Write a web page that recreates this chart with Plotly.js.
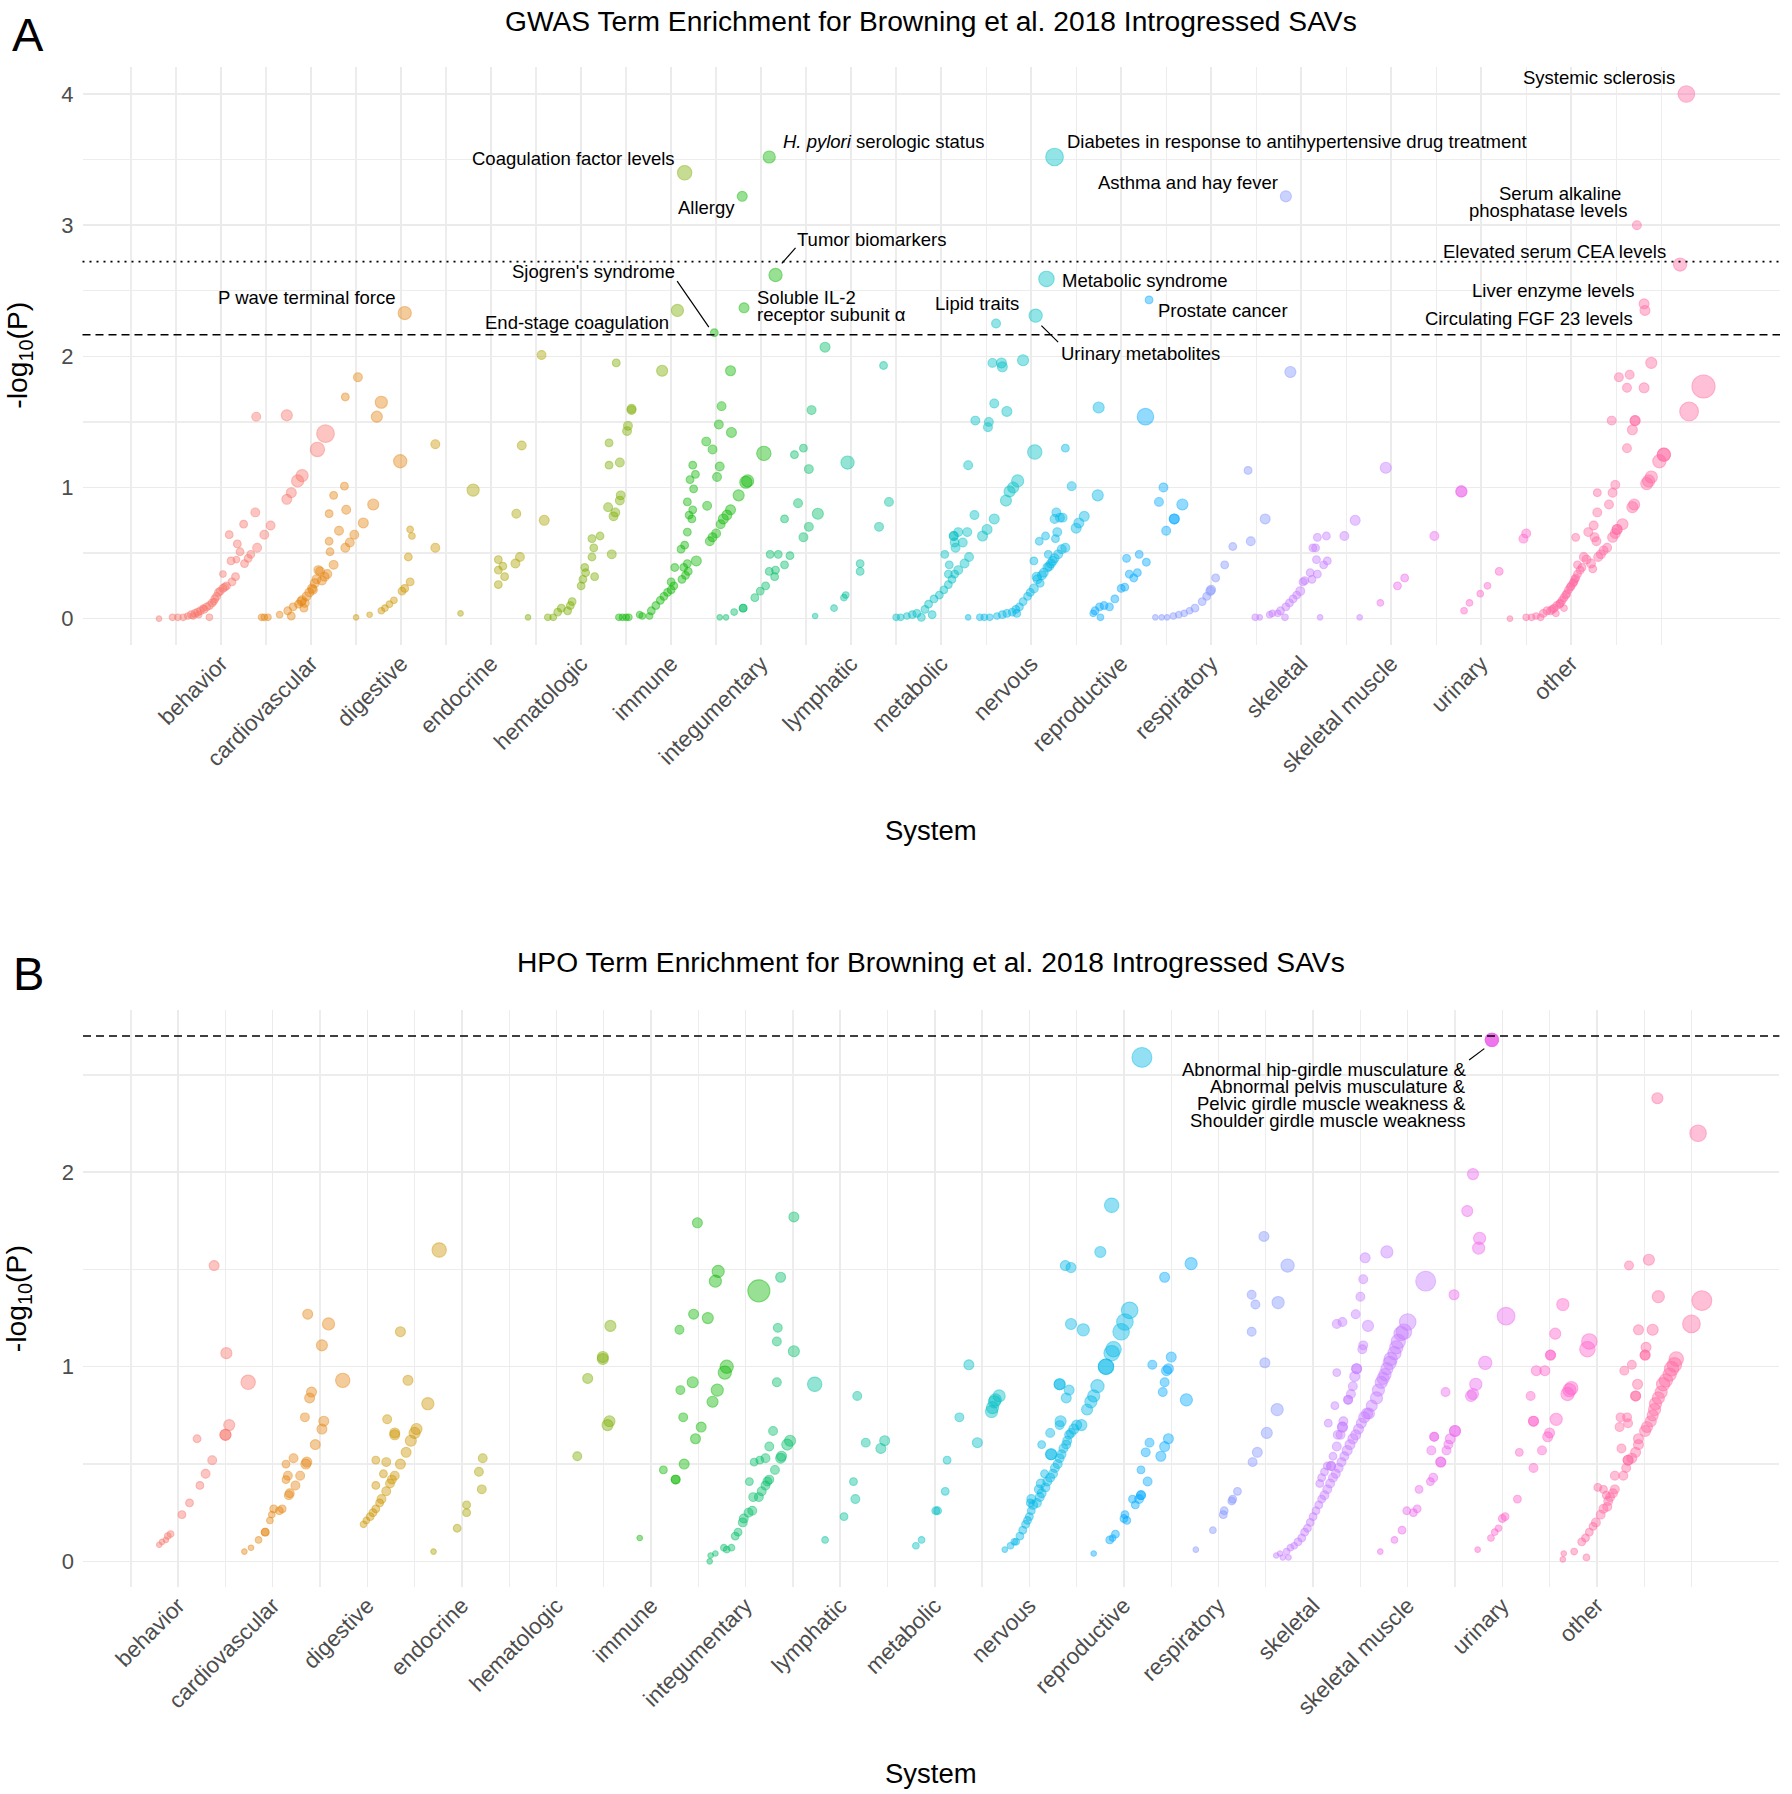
<!DOCTYPE html>
<html><head><meta charset="utf-8">
<script src="https://cdn.plot.ly/plotly-3.0.1.min.js"></script>
<style>html,body{margin:0;padding:0;background:#fff}#chart{width:1792px;height:1794px}</style>
</head><body><div id="chart"></div>
<script>
// ---------- categories ----------
const systems = ["behavior","cardiovascular","digestive","endocrine","hematologic","immune","integumentary","lymphatic","metabolic","nervous","reproductive","respiratory","skeletal","skeletal muscle","urinary","other"];
const systemColors = ["#F8766D","#E68613","#CD9600","#ABA300","#7CAE00","#0CB702","#00BE67","#00C19A","#00BFC4","#00B8E7","#00A9FF","#8494FF","#C77CFF","#ED68ED","#FF61CC","#FF68A1"];

// thresholds (-log10 P)
const gwasDashed = 2.164, gwasDotted = 2.722, hpoDashed = 2.70;

// ---------- Panel A (GWAS): [position, -log10(P), term size] ----------
const gwasBehavior = [[0.31,0.00,5],[0.46,0.01,6],[0.52,0.01,6],[0.58,0.01,6],[0.63,0.02,6],[0.67,0.03,7],[0.69,0.02,6],[0.71,0.04,7],[0.74,0.05,7],[0.75,0.03,6],[0.77,0.06,7],[0.80,0.08,6],[0.81,0.07,7],[0.84,0.09,7],[0.87,0.10,7],[0.90,0.12,7],[0.87,0.01,6],[0.92,0.13,6],[0.93,0.15,7],[0.95,0.17,7],[0.97,0.20,7],[0.99,0.21,7],[1.02,0.23,7],[1.04,0.24,7],[1.06,0.25,7],[1.02,0.34,6],[1.12,0.28,7],[1.16,0.32,7],[1.11,0.44,7],[1.17,0.45,6],[1.26,0.42,7],[1.30,0.46,7],[1.33,0.49,7],[1.21,0.51,7],[1.18,0.57,7],[1.09,0.64,7],[1.25,0.72,7],[1.38,0.81,8],[1.40,0.54,8],[1.48,0.64,8],[1.55,0.71,8],[1.39,1.54,8],[1.73,0.91,9],[1.78,0.96,9],[1.85,1.05,11],[1.90,1.09,11],[2.07,1.29,13],[2.16,1.41,16],[1.73,1.55,10]];
const gwasCardiovascular = [[1.45,0.01,6],[1.48,0.01,6],[1.52,0.01,6],[1.65,0.03,6],[1.74,0.06,7],[1.78,0.02,7],[1.80,0.09,7],[1.86,0.11,7],[1.89,0.13,8],[1.90,0.14,8],[1.93,0.12,8],[1.92,0.08,7],[1.95,0.17,8],[1.98,0.20,8],[2.01,0.23,8],[2.02,0.22,8],[2.04,0.27,8],[2.06,0.30,8],[2.08,0.37,8],[2.10,0.36,8],[2.12,0.29,8],[2.15,0.32,8],[2.18,0.34,8],[2.25,0.41,8],[2.21,0.51,7],[2.20,0.59,7],[2.31,0.67,8],[2.38,0.54,8],[2.43,0.58,8],[2.48,0.64,8],[2.58,0.73,9],[2.20,0.80,7],[2.25,0.94,7],[2.39,0.83,8],[2.37,1.01,7],[2.69,0.87,10],[2.38,1.69,7],[2.52,1.84,8],[2.78,1.65,11],[2.73,1.54,10],[2.99,1.20,12],[3.04,2.33,12]];
const gwasDigestive = [[2.50,0.01,5],[2.65,0.03,5],[2.78,0.06,6],[2.82,0.08,6],[2.87,0.11,6],[2.92,0.14,6],[3.01,0.21,7],[3.04,0.23,7],[3.10,0.28,7],[3.08,0.47,7],[3.12,0.63,6],[3.10,0.68,6],[3.38,0.54,8],[3.38,1.33,8]];
const gwasEndocrine = [[3.66,0.04,5],[3.80,0.98,11],[4.08,0.26,7],[4.15,0.32,7],[4.08,0.37,7],[4.13,0.40,7],[4.08,0.45,7],[4.27,0.42,8],[4.32,0.47,8],[4.28,0.80,8],[4.34,1.32,8],[4.59,0.75,9],[4.56,2.01,8]];
const gwasHematologic = [[4.41,0.01,5],[4.63,0.01,6],[4.69,0.01,6],[4.74,0.05,7],[4.78,0.08,7],[4.85,0.06,7],[4.88,0.10,7],[4.90,0.13,7],[5.00,0.25,7],[5.02,0.30,7],[5.05,0.35,7],[5.04,0.39,7],[5.15,0.32,7],[5.12,0.47,7],[5.14,0.54,7],[5.12,0.61,7],[5.21,0.63,7],[5.34,0.49,8],[5.36,0.78,8],[5.38,0.81,8],[5.30,0.85,8],[5.43,0.90,8],[5.44,0.94,8],[5.31,1.17,7],[5.43,1.19,8],[5.31,1.34,7],[5.51,1.43,8],[5.52,1.47,8],[5.56,1.59,8],[5.56,1.60,8],[5.39,1.95,7],[5.90,1.89,10],[6.07,2.35,11],[6.15,3.40,13]];
const gwasImmune = [[5.42,0.01,6],[5.46,0.01,6],[5.50,0.01,6],[5.53,0.01,6],[5.65,0.03,6],[5.68,0.02,6],[5.76,0.02,6],[5.78,0.06,7],[5.83,0.10,7],[5.88,0.14,7],[5.92,0.17,7],[5.96,0.20,7],[6.00,0.22,7],[6.03,0.25,7],[6.00,0.28,7],[6.12,0.30,7],[6.16,0.33,7],[6.19,0.36,7],[6.14,0.39,7],[6.18,0.42,7],[6.04,0.39,7],[6.28,0.44,9],[6.11,0.53,7],[6.15,0.56,7],[6.18,0.66,7],[6.23,0.76,7],[6.20,0.79,7],[6.24,0.83,7],[6.18,0.89,7],[6.40,0.86,8],[6.25,0.99,7],[6.21,1.06,7],[6.27,1.10,7],[6.24,1.17,7],[6.51,1.08,8],[6.54,1.16,8],[6.46,1.29,8],[6.39,1.35,8],[6.67,1.42,9],[6.53,1.48,8],[6.56,1.62,8],[6.66,1.89,9],[6.48,2.18,7],[6.43,0.59,8],[6.46,0.62,8],[6.50,0.65,8],[6.55,0.72,8],[6.58,0.76,9],[6.62,0.79,9],[6.66,0.83,9],[6.75,0.94,10],[6.83,1.04,11],[6.85,1.05,11],[7.03,1.26,13],[6.81,2.37,9],[6.79,3.22,9],[7.09,3.52,11],[7.16,2.62,12]];
const gwasIntegumentary = [[6.54,0.01,5],[6.61,0.01,5],[6.70,0.05,6],[6.80,0.08,7],[6.80,0.08,7],[6.93,0.16,7],[6.99,0.21,7],[7.05,0.25,7],[7.15,0.32,7],[7.09,0.36,7],[7.16,0.37,7],[7.26,0.41,7],[7.10,0.49,7],[7.19,0.49,7],[7.32,0.48,7],[7.47,0.62,8],[7.53,0.70,8],[7.26,0.76,7],[7.63,0.80,10],[7.41,0.88,8],[7.53,1.14,8],[7.37,1.25,7],[7.47,1.30,7],[7.56,1.59,8],[7.71,2.07,9]];
const gwasLymphatic = [[7.60,0.02,5],[7.81,0.08,6],[7.92,0.16,6],[7.94,0.18,6],[8.10,0.36,7],[8.10,0.42,7],[8.31,0.70,8],[8.42,0.89,8],[7.96,1.19,12],[8.36,1.93,7]];
const gwasMetabolic = [[8.50,0.01,6],[8.55,0.01,6],[8.62,0.02,6],[8.68,0.03,7],[8.73,0.04,7],[8.82,0.07,7],[8.78,0.01,7],[8.90,0.03,7],[8.86,0.11,7],[8.92,0.15,7],[8.98,0.18,7],[9.03,0.22,7],[9.08,0.26,7],[9.12,0.30,7],[9.15,0.34,7],[9.08,0.34,7],[9.04,0.49,7],[9.09,0.41,7],[9.19,0.37,8],[9.26,0.42,8],[9.31,0.47,8],[9.16,0.54,8],[9.15,0.58,8],[9.24,0.58,8],[9.14,0.63,8],[9.14,0.63,8],[9.19,0.66,8],[9.29,0.66,8],[9.46,0.63,9],[9.51,0.68,9],[9.37,0.79,8],[9.59,0.76,9],[9.30,1.17,8],[9.38,1.51,8],[9.53,1.50,8],[9.52,1.46,8],[9.59,1.64,8],[9.73,1.58,9],[9.57,1.95,8],[9.67,1.95,9],[9.68,1.92,9],[9.91,1.97,10],[9.61,2.25,8],[9.72,0.90,10],[9.76,0.97,10],[9.80,1.00,10],[9.85,1.05,11],[10.04,1.27,13],[10.05,2.31,12],[10.17,2.59,14],[10.26,3.52,16]];
const gwasNervous = [[9.30,0.01,5],[9.43,0.01,6],[9.48,0.01,6],[9.54,0.01,6],[9.62,0.02,6],[9.68,0.03,7],[9.73,0.04,7],[9.79,0.05,7],[9.83,0.07,7],[9.87,0.09,7],[9.91,0.13,7],[9.96,0.17,7],[9.84,0.04,7],[9.99,0.20,7],[10.03,0.23,8],[10.07,0.30,8],[10.06,0.32,8],[10.10,0.27,7],[10.12,0.33,8],[10.14,0.35,8],[10.18,0.39,8],[10.20,0.40,8],[10.22,0.42,8],[10.24,0.44,8],[10.26,0.46,8],[10.30,0.49,8],[10.34,0.53,8],[10.38,0.54,8],[10.03,0.44,7],[10.09,0.59,7],[10.16,0.63,7],[10.19,0.49,7],[10.27,0.61,7],[10.29,0.66,8],[10.26,0.76,8],[10.32,0.77,8],[10.28,0.81,8],[10.35,0.77,8],[10.50,0.69,9],[10.53,0.73,9],[10.59,0.78,9],[10.45,1.01,8],[10.38,1.30,7],[10.74,0.94,10],[10.75,1.61,10]];
const gwasReproductive = [[10.69,0.04,6],[10.71,0.06,7],[10.76,0.09,7],[10.81,0.10,7],[10.77,0.01,6],[10.87,0.09,7],[10.93,0.15,7],[11.00,0.23,7],[11.04,0.24,7],[11.09,0.34,7],[11.14,0.31,7],[11.18,0.35,7],[11.28,0.43,7],[11.06,0.46,7],[11.20,0.49,7],[11.50,0.67,8],[11.59,0.76,9],[11.59,0.76,9],[11.42,0.89,8],[11.68,0.87,10],[11.47,1.00,8],[11.27,1.54,15],[11.31,2.43,7]];
const gwasRespiratory = [[11.38,0.01,5],[11.45,0.01,5],[11.51,0.01,5],[11.58,0.02,6],[11.64,0.03,6],[11.70,0.04,6],[11.76,0.06,6],[11.82,0.08,7],[11.90,0.13,7],[11.95,0.17,7],[11.99,0.21,8],[12.00,0.22,8],[12.05,0.31,7],[12.15,0.41,7],[12.24,0.55,7],[12.44,0.59,8],[12.60,0.76,9],[12.41,1.13,7],[12.88,1.88,10],[12.83,3.22,10]];
const gwasSkeletal = [[12.49,0.01,6],[12.54,0.01,5],[12.65,0.03,6],[12.68,0.04,6],[12.74,0.04,6],[12.77,0.06,7],[12.82,0.01,6],[12.83,0.09,7],[12.87,0.12,7],[12.91,0.15,7],[12.95,0.18,7],[12.99,0.21,8],[13.02,0.28,7],[13.04,0.29,7],[13.12,0.30,7],[13.10,0.35,7],[13.18,0.34,7],[13.17,0.45,7],[13.25,0.41,7],[13.29,0.44,7],[13.13,0.54,7],[13.16,0.54,7],[13.18,0.62,7],[13.28,0.63,7],[13.48,0.63,8],[13.60,0.75,9],[13.21,0.01,5],[13.65,0.01,5],[13.94,1.15,10]];
const gwasSkeletalMuscle = [[13.88,0.12,6],[14.07,0.25,7],[14.15,0.31,7],[14.48,0.63,8],[14.78,0.97,10],[14.78,0.97,10]];
const gwasUrinary = [[14.81,0.06,6],[14.87,0.12,6],[14.99,0.19,6],[15.07,0.25,6],[15.20,0.36,7],[15.47,0.61,8],[15.50,0.65,8]];
const gwasOther = [[15.32,0.00,5],[15.50,0.01,6],[15.56,0.01,6],[15.61,0.02,6],[15.66,0.01,6],[15.69,0.04,7],[15.73,0.06,7],[15.77,0.06,7],[15.79,0.07,7],[15.81,0.08,7],[15.84,0.10,7],[15.87,0.11,7],[15.88,0.12,7],[15.90,0.14,7],[15.92,0.16,7],[15.94,0.18,7],[15.95,0.19,7],[15.97,0.22,7],[15.99,0.24,7],[16.00,0.25,7],[16.02,0.27,7],[16.03,0.28,7],[16.04,0.30,7],[16.05,0.31,7],[16.07,0.34,7],[16.10,0.37,7],[16.12,0.39,7],[15.83,0.04,6],[15.92,0.08,6],[16.07,0.41,7],[16.14,0.47,8],[16.17,0.45,8],[16.24,0.38,7],[16.22,0.42,8],[16.30,0.47,8],[16.33,0.49,8],[16.36,0.52,8],[16.40,0.54,8],[16.46,0.62,9],[16.49,0.65,9],[16.51,0.68,9],[16.51,0.68,9],[16.57,0.72,10],[16.68,0.85,10],[16.70,0.87,10],[16.84,1.03,11],[16.86,1.05,11],[16.89,1.08,11],[16.98,1.20,12],[17.03,1.25,12],[17.03,1.25,12],[16.05,0.62,7],[16.19,0.66,8],[16.26,0.62,8],[16.28,0.59,8],[16.25,0.71,8],[16.29,0.81,8],[16.29,0.96,7],[16.42,0.87,8],[16.46,0.96,8],[16.49,1.02,8],[16.62,1.30,8],[16.68,1.44,9],[16.71,1.51,9],[16.71,1.51,9],[16.45,1.51,8],[16.53,1.84,8],[16.62,1.76,8],[16.65,1.86,8],[16.81,1.76,9],[16.89,1.95,10],[17.47,1.77,21],[17.31,1.58,17],[16.81,2.40,9],[16.82,2.35,9],[16.73,3.00,8],[17.21,2.70,12],[17.28,4.00,15]];

// ---------- Panel B (HPO): [position, -log10(P), term size] ----------
const hpoBehavior = [[0.80,0.085,5],[0.83,0.10,5],[0.87,0.11,5],[0.89,0.13,6],[0.92,0.14,6],[1.04,0.24,7],[1.12,0.30,7],[1.23,0.39,7],[1.29,0.45,8],[1.36,0.52,8],[1.20,0.63,7],[1.50,0.65,10],[1.50,0.65,10],[1.54,0.70,10],[1.74,0.92,13],[1.51,1.07,10],[1.38,1.52,9]];
const hpoCardiovascular = [[1.70,0.05,5],[1.77,0.07,5],[1.85,0.11,6],[1.92,0.15,7],[1.92,0.15,7],[1.97,0.21,6],[1.99,0.24,6],[2.01,0.27,7],[2.07,0.26,7],[2.10,0.27,7],[2.17,0.34,8],[2.18,0.35,8],[2.24,0.39,8],[2.29,0.44,8],[2.16,0.44,8],[2.14,0.42,7],[2.14,0.50,7],[2.22,0.53,8],[2.35,0.50,9],[2.36,0.51,9],[2.34,0.74,8],[2.45,0.60,9],[2.52,0.68,9],[2.54,0.72,9],[2.39,0.84,9],[2.41,0.87,9],[2.74,0.93,13],[2.52,1.11,10],[2.59,1.22,11],[2.37,1.27,9]];
const hpoDigestive = [[2.96,0.19,6],[2.99,0.21,6],[3.03,0.23,7],[3.06,0.25,7],[3.09,0.27,7],[3.13,0.30,7],[3.15,0.32,8],[3.20,0.36,8],[3.24,0.40,8],[3.26,0.42,8],[3.29,0.44,8],[3.09,0.39,7],[3.17,0.45,7],[3.09,0.52,7],[3.20,0.51,8],[3.21,0.73,8],[3.35,0.50,9],[3.41,0.56,9],[3.46,0.62,10],[3.29,0.65,9],[3.29,0.66,9],[3.50,0.66,10],[3.52,0.68,10],[3.43,0.93,9],[3.64,0.81,11],[3.35,1.18,9],[3.76,1.60,13]];
const hpoEndocrine = [[3.70,0.05,5],[3.95,0.17,7],[4.05,0.25,7],[4.05,0.29,7],[4.21,0.37,8],[4.18,0.46,8],[4.22,0.53,8]];
const hpoHematologic = [[5.22,0.54,8],[5.33,0.94,9],[5.49,1.04,10],[5.49,1.05,10],[5.54,0.70,10],[5.56,0.72,10],[5.57,1.21,10]];
const hpoImmune = [[5.88,0.12,5],[6.13,0.47,7],[6.26,0.42,8],[6.26,0.42,8],[6.35,0.50,9],[6.47,0.63,9],[6.53,0.69,9],[6.34,0.74,8],[6.31,0.88,8],[6.44,0.92,10],[6.65,0.82,10],[6.70,0.88,11],[6.78,0.97,12],[6.80,1.00,12],[6.30,1.19,8],[6.45,1.27,9],[6.60,1.25,10],[6.68,1.44,11],[6.71,1.49,11],[6.49,1.74,9],[7.14,1.39,20]];
const hpoIntegumentary = [[6.62,0.00,5],[6.63,0.03,5],[6.68,0.04,5],[6.77,0.07,6],[6.80,0.06,6],[6.85,0.07,6],[6.89,0.13,7],[6.92,0.15,7],[6.97,0.20,8],[6.98,0.22,8],[7.03,0.25,8],[7.07,0.26,8],[7.08,0.33,8],[7.14,0.33,8],[7.17,0.36,8],[7.21,0.39,8],[7.23,0.41,8],[7.25,0.42,8],[7.04,0.41,7],[7.31,0.47,8],[7.37,0.53,9],[7.38,0.54,9],[7.09,0.51,7],[7.15,0.52,7],[7.21,0.53,8],[7.25,0.59,8],[7.44,0.60,10],[7.47,0.62,10],[7.29,0.67,8],[7.33,0.92,8],[7.51,1.08,10],[7.33,1.13,8],[7.34,1.20,8],[7.37,1.46,9],[7.51,1.77,9]];
const hpoLymphatic = [[7.73,0.91,13],[7.84,0.11,6],[8.04,0.23,7],[8.14,0.41,7],[8.16,0.32,8],[8.18,0.85,8],[8.27,0.61,8],[8.43,0.58,9],[8.47,0.62,9]];
const hpoMetabolic = [[8.80,0.08,6],[8.86,0.11,6],[9.01,0.26,7],[9.03,0.26,7],[9.11,0.36,7],[9.13,0.52,7],[9.26,0.74,8],[9.36,1.01,9],[9.45,0.61,9],[9.60,0.77,11],[9.61,0.79,11],[9.63,0.82,11],[9.64,0.83,11],[9.68,0.85,11]];
const hpoNervous = [[9.74,0.06,5],[9.80,0.08,6],[9.84,0.10,6],[9.86,0.10,6],[9.90,0.13,7],[9.93,0.16,7],[9.96,0.19,7],[9.98,0.21,7],[10.00,0.23,7],[10.02,0.26,7],[10.04,0.29,8],[10.08,0.30,8],[10.11,0.33,8],[10.13,0.35,8],[10.17,0.38,8],[10.19,0.41,8],[10.22,0.43,8],[10.25,0.45,8],[10.27,0.48,8],[10.30,0.50,8],[10.32,0.53,8],[10.34,0.55,8],[10.36,0.58,8],[10.39,0.60,8],[10.40,0.62,8],[10.42,0.65,8],[10.44,0.66,8],[10.47,0.68,9],[10.50,0.70,9],[10.55,0.70,10],[10.02,0.32,8],[10.01,0.30,7],[10.10,0.37,8],[10.12,0.40,8],[10.16,0.45,7],[10.13,0.60,7],[10.23,0.55,10],[10.23,0.55,10],[10.22,0.66,8],[10.32,0.70,8],[10.33,0.72,10],[10.32,0.91,10],[10.32,0.91,10],[10.39,0.84,9],[10.42,0.88,9],[10.44,1.22,10],[10.57,1.19,11],[10.38,1.52,9],[10.44,1.51,9],[10.61,0.78,10],[10.65,0.82,11],[10.68,0.85,11],[10.72,0.90,12],[10.81,1.00,14],[10.81,1.00,14],[10.87,1.07,14],[10.89,1.09,14],[10.97,1.18,15],[11.01,1.23,15],[11.06,1.29,15],[10.75,1.59,10],[10.87,1.83,13],[11.19,2.59,18]];
const hpoReproductive = [[10.68,0.04,5],[10.85,0.11,7],[10.91,0.14,7],[10.88,0.12,6],[11.00,0.22,7],[11.03,0.21,7],[11.01,0.24,7],[11.09,0.32,7],[11.12,0.29,7],[11.16,0.32,8],[11.18,0.34,8],[11.18,0.34,8],[11.25,0.41,8],[11.18,0.47,7],[11.23,0.56,8],[11.27,0.61,8],[11.39,0.54,9],[11.43,0.59,9],[11.47,0.63,9],[11.41,0.87,8],[11.43,0.92,8],[11.45,0.98,9],[11.47,0.99,9],[11.50,1.05,9],[11.30,1.01,8],[11.66,0.83,11],[11.43,1.46,9],[11.71,1.53,11]];
const hpoRespiratory = [[11.76,0.06,5],[11.94,0.16,6],[12.05,0.24,7],[12.06,0.26,7],[12.14,0.31,7],[12.15,0.32,7],[12.20,0.36,7],[12.36,0.51,8],[12.41,0.56,9],[12.51,0.66,10],[12.62,0.78,11],[12.49,1.02,9],[12.35,1.18,8],[12.39,1.32,8],[12.35,1.37,8],[12.63,1.33,11],[12.73,1.52,12],[12.48,1.67,9]];
const hpoSkeletal = [[12.61,0.03,5],[12.65,0.04,5],[12.68,0.02,5],[12.74,0.02,5],[12.72,0.05,6],[12.76,0.07,6],[12.80,0.08,6],[12.84,0.10,7],[12.88,0.12,7],[12.91,0.15,7],[12.94,0.17,7],[12.97,0.20,7],[13.00,0.23,7],[13.03,0.26,7],[13.06,0.29,7],[13.09,0.32,7],[13.12,0.34,8],[13.15,0.37,8],[13.18,0.40,8],[13.21,0.43,8],[13.24,0.45,8],[13.27,0.48,8],[13.30,0.51,8],[13.33,0.54,8],[13.36,0.57,9],[13.39,0.60,9],[13.42,0.63,9],[13.45,0.65,9],[13.48,0.68,9],[13.51,0.71,9],[13.54,0.74,10],[13.57,0.76,10],[13.59,0.76,10],[13.62,0.80,10],[13.67,0.84,11],[13.69,0.88,11],[13.72,0.92,11],[13.74,0.94,11],[13.76,0.96,11],[13.78,0.99,11],[13.81,1.02,12],[13.82,1.04,12],[13.86,1.07,12],[13.88,1.10,12],[13.90,1.13,13],[13.93,1.17,13],[13.96,1.18,14],[14.00,1.23,15],[13.07,0.40,7],[13.09,0.43,7],[13.12,0.46,7],[13.15,0.49,7],[13.19,0.49,8],[13.19,0.49,8],[13.21,0.54,7],[13.25,0.59,8],[13.26,0.65,8],[13.29,0.65,8],[13.31,0.69,9],[13.31,0.69,9],[13.32,0.72,8],[13.16,0.71,7],[13.23,0.80,7],[13.37,0.83,8],[13.37,0.83,8],[13.40,0.86,8],[13.42,0.90,8],[13.44,0.95,9],[13.46,0.99,9],[13.46,0.99,9],[13.25,0.97,7],[13.52,1.09,8],[13.53,1.11,8],[13.45,1.27,8],[13.58,1.21,10],[13.25,1.22,8],[13.31,1.23,8],[13.50,1.36,8],[13.53,1.45,8],[13.55,1.56,9],[13.78,1.59,11],[14.19,1.44,18]];
const hpoSkeletalMuscle = [[13.71,0.05,5],[13.86,0.11,6],[13.94,0.16,7],[13.99,0.26,7],[14.06,0.25,7],[14.10,0.27,7],[14.12,0.37,7],[14.24,0.41,7],[14.27,0.43,8],[14.35,0.51,9],[14.35,0.51,9],[14.25,0.57,8],[14.41,0.57,8],[14.43,0.60,8],[14.45,0.63,9],[14.50,0.67,10],[14.50,0.67,10],[14.28,0.64,8],[14.28,0.64,8],[14.40,0.87,8],[14.67,0.85,10],[14.69,0.86,10],[14.72,0.91,11],[14.82,1.02,12],[14.49,1.37,9],[15.04,1.26,16],[14.75,1.61,11],[14.76,1.66,11],[14.63,1.80,10],[14.69,1.99,10],[14.89,2.68,12],[14.89,2.68,12],[14.89,2.68,12],[14.89,2.68,12]];
const hpoUrinary = [[14.74,0.06,5],[14.88,0.12,6],[14.92,0.15,6],[14.96,0.17,6],[15.00,0.22,7],[15.03,0.23,7],[15.16,0.32,7],[15.18,0.56,7],[15.33,0.48,8],[15.33,0.72,9],[15.33,0.72,9],[15.42,0.57,8],[15.48,0.64,9],[15.50,0.66,9],[15.57,0.73,11],[15.30,0.85,8],[15.36,0.98,9],[15.45,0.98,9],[15.51,1.06,9],[15.51,1.06,9],[15.56,1.17,10],[15.69,0.86,12],[15.71,0.88,12],[15.73,0.89,12],[15.64,1.32,11],[15.90,1.09,14],[15.92,1.13,14]];
const hpoOther = [[15.64,0.01,5],[15.65,0.04,5],[15.76,0.05,6],[15.89,0.02,6],[15.84,0.10,7],[15.88,0.12,7],[15.92,0.15,7],[15.96,0.18,7],[15.99,0.20,8],[16.04,0.24,8],[16.07,0.27,8],[16.11,0.28,8],[16.12,0.31,8],[16.14,0.33,8],[16.17,0.35,8],[16.19,0.37,8],[16.01,0.38,7],[16.07,0.37,7],[16.10,0.34,7],[16.19,0.44,8],[16.28,0.44,8],[16.31,0.48,8],[16.33,0.52,9],[16.33,0.52,9],[16.37,0.53,9],[16.41,0.56,9],[16.44,0.60,9],[16.44,0.63,9],[16.26,0.58,8],[16.51,0.67,10],[16.53,0.69,10],[16.57,0.72,10],[16.59,0.75,10],[16.61,0.78,11],[16.62,0.81,11],[16.65,0.84,11],[16.68,0.87,11],[16.70,0.91,12],[16.73,0.93,12],[16.77,0.96,12],[16.79,0.99,13],[16.82,1.01,13],[16.84,1.04,13],[16.24,0.69,8],[16.25,0.74,8],[16.33,0.71,8],[16.32,0.74,8],[16.41,0.85,9],[16.41,0.85,9],[16.43,0.91,9],[16.29,0.98,8],[16.37,1.01,8],[16.51,1.06,9],[16.51,1.06,9],[16.52,1.10,9],[16.44,1.19,9],[16.59,1.19,10],[16.34,1.52,8],[16.55,1.55,10],[16.65,1.36,11],[17.00,1.22,16],[17.11,1.34,18],[16.64,2.38,10],[17.07,2.20,15]];

// ---------- term labels: [text, x, y, anchor] ----------
const gwasLabels = [
  ["P wave terminal force", 2.956, 2.446, "right"],
  ["Coagulation factor levels", 6.054, 3.509, "right"],
  ["Sjogren's syndrome", 6.054, 2.646, "right"],
  ["End-stage coagulation", 5.992, 2.257, "right"],
  ["Allergy", 6.716, 3.131, "right"],
  ["<i>H. pylori</i> serologic status", 7.23, 3.639, "left"],
  ["Tumor biomarkers", 7.382, 2.891, "left"],
  ["Soluble IL-2\nreceptor subunit α", 6.942, 2.383, "left"],
  ["Diabetes in response to antihypertensive drug treatment", 10.39, 3.639, "left"],
  ["Asthma and hay fever", 12.756, 3.329, "right"],
  ["Metabolic syndrome", 10.332, 2.581, "left"],
  ["Lipid traits", 9.877, 2.400, "right"],
  ["Prostate cancer", 11.393, 2.347, "left"],
  ["Urinary metabolites", 10.32, 2.025, "left"],
  ["Systemic sclerosis", 17.166, 4.127, "right"],
  ["Serum alkaline&nbsp;\nphosphatase levels", 16.627, 3.175, "right"],
  ["Elevated serum CEA levels", 17.07, 2.798, "right"],
  ["Liver enzyme levels", 16.713, 2.505, "right"],
  ["Circulating FGF 23 levels", 16.70, 2.285, "right"]
];
// leader segments [x0, y0, x1, y1]
const gwasLeaders = [[6.067,2.573,6.419,2.223],[7.382,2.827,7.23,2.708],[10.114,2.234,10.30,2.108]];
const hpoLabels = [
  ["Abnormal hip-girdle musculature &\nAbnormal pelvis musculature &\nPelvic girdle muscle weakness &\nShoulder girdle muscle weakness", 14.63, 2.397, "right"]
];
const hpoLeaders = [[14.649,2.576,14.81,2.635]];

const gwasGroups = [gwasBehavior,gwasCardiovascular,gwasDigestive,gwasEndocrine,gwasHematologic,gwasImmune,gwasIntegumentary,gwasLymphatic,gwasMetabolic,gwasNervous,gwasReproductive,gwasRespiratory,gwasSkeletal,gwasSkeletalMuscle,gwasUrinary,gwasOther];
const hpoGroups = [hpoBehavior,hpoCardiovascular,hpoDigestive,hpoEndocrine,hpoHematologic,hpoImmune,hpoIntegumentary,hpoLymphatic,hpoMetabolic,hpoNervous,hpoReproductive,hpoRespiratory,hpoSkeletal,hpoSkeletalMuscle,hpoUrinary,hpoOther];

// ---------- build ----------
const FONT = "Liberation Sans, Arial, Helvetica, sans-serif";
const sizeScale = s => s * 1.1;
function rgba(hex, a){const n=parseInt(hex.slice(1),16);return `rgba(${(n>>16)&255},${(n>>8)&255},${n&255},${a})`;}
function traces(groups, xa, ya){
  return groups.map((pts,i)=>({
    type:"scatter", mode:"markers", xaxis:xa, yaxis:ya, name:systems[i], showlegend:false, hoverinfo:"skip",
    x:pts.map(p=>p[0]), y:pts.map(p=>p[1]),
    marker:{size:pts.map(p=>sizeScale(p[2])), color:rgba(systemColors[i],0.6), line:{color:rgba(systemColors[i],0.7), width:1.1}}
  }));
}
const data = traces(gwasGroups,"x","y").concat(traces(hpoGroups,"x2","y2"));

const majorX = systems.map((_,i)=>i+1);
const minorX = [0,0.5].concat(majorX.map(v=>v+0.5)).concat([17]);
function xAxis(domain, range, anchor){
  return {domain, range, anchor, tickmode:"array", tickvals:majorX, ticktext:systems, tickangle:-45,
    tickfont:{family:FONT,size:22.5,color:"#4D4D4D"}, showgrid:true, gridcolor:"#EBEBEB", gridwidth:1.5,
    zeroline:false, showline:false, ticks:"",
    minor:{tickmode:"array", tickvals:minorX, showgrid:true, gridcolor:"#EDEDED", gridwidth:1.3, ticks:""}};
}
function yAxis(domain, range, anchor, majors, minors){
  return {domain, range, anchor, tickmode:"array", tickvals:majors, ticktext:majors.map(String),
    tickfont:{family:FONT,size:22,color:"#4D4D4D"}, showgrid:true, gridcolor:"#EBEBEB", gridwidth:1.5,
    zeroline:false, showline:false, ticks:"", ticklabelstandoff:8,
    minor:{tickmode:"array", tickvals:minors, showgrid:true, gridcolor:"#EDEDED", gridwidth:1.3, ticks:""}};
}

const annotations = [];
const shapes = [];
function addLabels(list, xr, yr){
  list.forEach(([t,x,y,anchor])=>{
    const lines = t.split("\n"); const gap = 17;
    lines.forEach((ln,k)=>{
      annotations.push({text:ln, x, y, xref:xr, yref:yr, xanchor:anchor, yanchor:"middle", showarrow:false,
        yshift:((lines.length-1)/2 - k)*gap, font:{family:FONT,size:18.5,color:"#000"}, borderpad:0});
    });
  });
}
addLabels(gwasLabels,"x","y");
addLabels(hpoLabels,"x2","y2");
function addLeaders(list, xr, yr){
  list.forEach(([x0,y0,x1,y1])=>shapes.push({type:"line",xref:xr,yref:yr,x0,y0,x1,y1,line:{color:"#000",width:1.2}}));
}
addLeaders(gwasLeaders,"x","y");
addLeaders(hpoLeaders,"x2","y2");
shapes.push({type:"line",xref:"x domain",yref:"y",x0:0,x1:1,y0:gwasDashed,y1:gwasDashed,line:{color:"#000",width:1.6,dash:"8px,5px"}});
shapes.push({type:"line",xref:"x domain",yref:"y",x0:0,x1:1,y0:gwasDotted,y1:gwasDotted,line:{color:"#000",width:1.6,dash:"2px,5px"}});
shapes.push({type:"line",xref:"x2 domain",yref:"y2",x0:0,x1:1,y0:hpoDashed,y1:hpoDashed,line:{color:"#000",width:1.6,dash:"8px,5px"}});

function paperText(text,x,y,size,angle){
  annotations.push({text, x, y, xref:"paper", yref:"paper", xanchor:"center", yanchor:"middle", showarrow:false,
    textangle:angle||0, font:{family:FONT,size,color:"#000"}});
}
paperText("GWAS Term Enrichment for Browning et al. 2018 Introgressed SAVs", 0.5195, 0.9885, 28.2);
paperText("HPO Term Enrichment for Browning et al. 2018 Introgressed SAVs", 0.5195, 0.4636, 28.2);
paperText("A", 0.0158, 0.9805, 47);
paperText("B", 0.0158, 0.4575, 47);
paperText("System", 0.5195, 0.5369, 27.5);
paperText("System", 0.5195, 0.0114, 27.5);
paperText("-log<sub>10</sub>(P)", 0.0104, 0.8021, 28.3, -90);
paperText("-log<sub>10</sub>(P)", 0.0104, 0.2762, 28.3, -90);

const layout = {
  width:1792, height:1794, margin:{l:0,r:0,t:0,b:0}, paper_bgcolor:"#fff", plot_bgcolor:"#fff", showlegend:false,
  font:{family:FONT},
  xaxis: xAxis([0.04604,0.99330],[-0.54,18.32],"y"),
  yaxis: yAxis([0.64047,0.96265],[-0.201,4.206],"x",[0,1,2,3,4],[0.5,1.5,2.5,3.5]),
  xaxis2: xAxis([0.04632,0.99297],[-0.006,17.93],"y2"),
  yaxis2: yAxis([0.11538,0.43707],[-0.132,2.834],"x2",[0,1,2],[0.5,1.5,2.5]),
  annotations, shapes
};
Plotly.newPlot("chart", data, layout, {staticPlot:true});
</script>
</body></html>
